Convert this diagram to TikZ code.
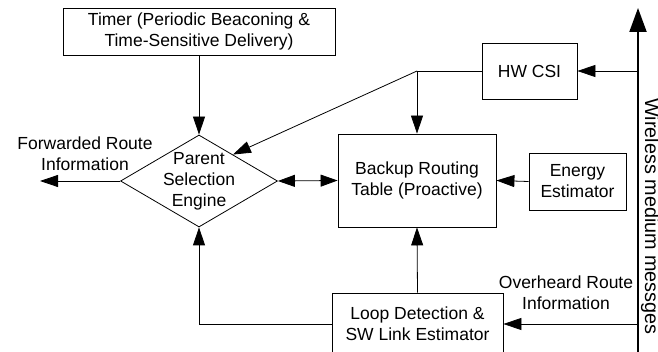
\documentclass[tikz,border=0pt]{standalone}
\usepackage{fontspec}
\setmainfont{Liberation Sans}
\usetikzlibrary{shapes.geometric,arrows.meta,calc}
\tikzstyle{every node}=[font=\fontsize{17.5}{21}\selectfont,align=center,inner sep=0pt]
\tikzstyle{block}=[draw=black,line width=0.8pt]
\tikzstyle{engine}=[draw=black,line width=0.8pt,diamond,minimum width=157pt,minimum height=92pt]
\tikzstyle{link}=[line width=0.8pt,-{Triangle[length=18pt,width=12pt]}]
\tikzstyle{both}=[line width=0.8pt,{Triangle[length=17pt,width=12pt]}-{Triangle[length=17pt,width=12pt]}]
\tikzstyle{medium}=[line width=2pt,-{Triangle[length=24pt,width=17pt]}]

\begin{document}
\begin{tikzpicture}[x=1pt,y=-1pt]
\useasboundingbox (0,0) rectangle (658,352);

\node[block,minimum width=272pt,minimum height=47pt] (timer) at (199,31.5) {Timer (Periodic Beaconing \&\\Time-Sensitive Delivery)};
\node[engine] (pse) at (199,181) {};
\node (psetext) at (pse) {Parent\\Selection\\Engine};
\node[block,minimum width=158pt,minimum height=93pt] (backup) at (417,180.5) {Backup Routing\\Table (Proactive)};
\node[block,minimum width=95pt,minimum height=56pt] (hwcsi) at (529.5,71) {HW CSI};
\node[block,minimum width=97pt,minimum height=57pt] (energy) at (577.5,181.5) {Energy\\Estimator};
\node[block,minimum width=171pt,minimum height=62pt] (loop) at (417.5,324) {Loop Detection \&\\SW Link Estimator};

% free labels
\node (fwdlabel) at (85,154) {Forwarded Route\\Information};
\node (ovhlabel) at (566,293) {Overheard Route\\Information};
\node[rotate=-90,anchor=base west,font=\fontsize{19.8}{24}\selectfont] (wltext) at (645,98) {Wireless medium messges};

\coordinate (fwd) at (40,181);
\coordinate (wlbot) at (638,356);
\coordinate (wltop) at (638,8);
\coordinate (split) at (417,71);

% wireless medium
\draw[medium] (wlbot) -- (wltop);
\draw[link] (wltop |- hwcsi.east) -- (hwcsi.east);
\draw[link] (wltop |- loop.east) -- (loop.east);

% connectors
\draw[link] (timer.south) -- (pse.north);
\draw[link] (pse.west) -- (fwd);
\draw[both] (pse.east) -- (backup.west);
\draw[line width=0.8pt] (hwcsi.west) -- (split);
\draw[link] (split) -- (backup.north);
\draw[link] (split) -- ($(pse.north)!0.43!(pse.east)$);
\draw[link] (energy.west) -- (backup.east);
\draw[link] (loop.north) -- (backup.south);
\draw[link] (loop.west) -| (pse.south);
\end{tikzpicture}
\end{document}
